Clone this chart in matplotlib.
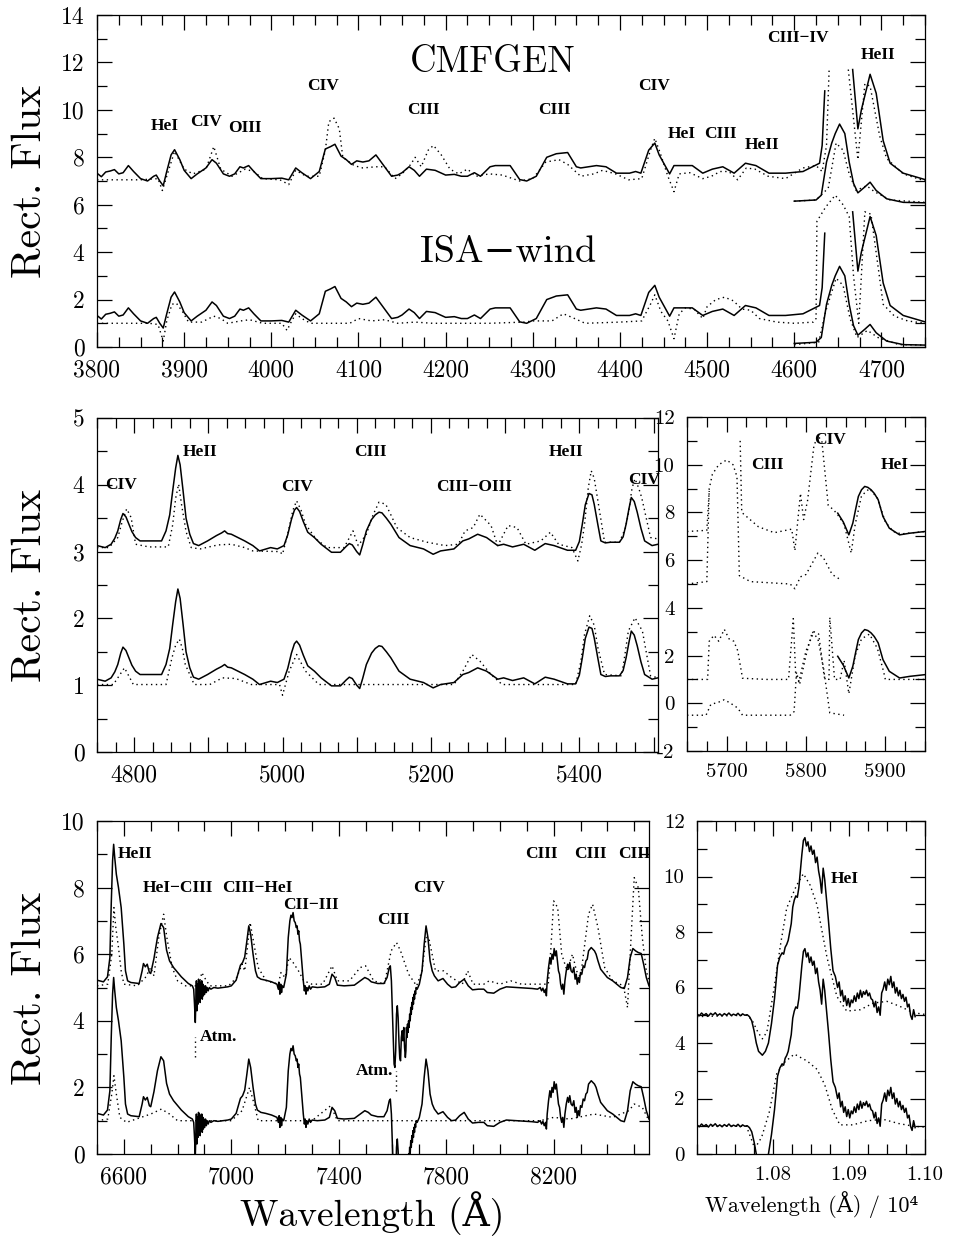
import numpy as np
import matplotlib
matplotlib.use('Agg')
import matplotlib.pyplot as plt
from matplotlib.ticker import MultipleLocator, FuncFormatter

plt.rcParams['font.family'] = ['cmr10', 'DejaVu Serif']
plt.rcParams['axes.unicode_minus'] = False
plt.rcParams['mathtext.fontset'] = 'cm'

# ---------------- panel 1 : 3800-4750 ----------------
p1_obs_wave = [3800, 3805, 3810, 3815, 3820, 3825, 3830, 3836, 3842, 3850, 3858, 3865, 3868, 3872, 3876,
               3880, 3885, 3889, 3895, 3900, 3908, 3915, 3925, 3932, 3937, 3945, 3952, 3958, 3964, 3968,
               3974, 3980, 3988, 4000, 4012, 4020, 4028, 4035, 4045, 4055, 4062, 4068, 4073, 4080, 4086,
               4092, 4098, 4105, 4112, 4120, 4128, 4138, 4145, 4150, 4158, 4164, 4170, 4178, 4188, 4200,
               4210, 4218, 4225, 4233, 4240, 4251, 4257, 4274, 4285, 4293, 4304, 4316, 4327, 4340, 4350,
               4355, 4373, 4384, 4396, 4411, 4418, 4424, 4433, 4440, 4445, 4457, 4462, 4483, 4495, 4506,
               4518, 4531, 4544, 4556, 4571, 4590, 4610, 4629, 4632, 4635, np.nan, 4667, 4673, 4677, 4687,
               4694, 4702, 4710, 4725, 4750]
p1_obs_flux = [1.33, 1.18, 1.38, 1.42, 1.48, 1.30, 1.35, 1.65, 1.40, 1.10, 1.00, 1.20, 1.25, 1.00, 0.80,
               1.40, 2.10, 2.32, 1.90, 1.45, 1.10, 1.30, 1.55, 1.90, 1.75, 1.30, 1.20, 1.30, 1.60, 1.55,
               1.65, 1.40, 1.10, 1.10, 1.12, 1.05, 1.55, 1.35, 1.10, 1.40, 2.35, 2.45, 2.55, 2.05, 1.90,
               1.70, 1.85, 1.80, 1.85, 2.10, 1.70, 1.20, 1.25, 1.35, 1.60, 1.45, 1.20, 1.50, 1.45, 1.25,
               1.28, 1.20, 1.20, 1.35, 1.20, 1.60, 1.65, 1.65, 1.06, 1.00, 1.20, 2.00, 2.15, 2.20, 1.60,
               1.55, 1.65, 1.60, 1.33, 1.33, 1.40, 1.33, 2.30, 2.60, 2.10, 1.30, 1.65, 1.65, 1.33, 1.50,
               1.60, 1.33, 1.75, 1.65, 1.33, 1.33, 1.40, 1.75, 2.50, 4.80, np.nan, 5.70, 3.20, 4.00, 5.50,
               4.70, 2.70, 1.75, 1.33, 1.06]
p1_obs_small_wave = [4600, 4625, 4631, 4637, 4643, 4647, 4652, 4658, 4663, 4668, 4673, 4681, 4687, 4694, 4706, 4725, 4750]
p1_obs_small_flux = [0.15, 0.20, 0.40, 1.80, 2.60, 3.00, 3.40, 3.00, 1.80, 0.90, 0.50, 0.75, 0.95, 0.60, 0.25, 0.10, 0.08]

p1_cmf_wave = [3800, 3850, 3870, 3875, 3880, 3889, 3900, 3910, 3925, 3934, 3942, 3955, 3970, 3980, 3990,
               4010, 4020, 4028, 4040, 4055, 4062, 4066, 4072, 4078, 4082, 4095, 4105, 4120, 4130, 4142,
               4150, 4160, 4165, 4172, 4180, 4186, 4195, 4205, 4215, 4225, 4235, 4250, 4265, 4285, 4300,
               4315, 4330, 4340, 4355, 4370, 4380, 4395, 4410, 4425, 4435, 4440, 4446, 4455, 4462, 4468,
               4480, 4495, 4505, 4515, 4525, 4535, 4545, 4555, 4570, 4590, 4610, 4625, 4632, 4637, 4640,
               np.nan, 4662, 4673, 4681, 4687, 4698, 4706, 4725, 4750]
p1_cmf_flux = [1.05, 1.05, 1.10, 0.60, 1.20, 2.25, 1.50, 1.30, 1.50, 2.45, 1.50, 1.20, 1.50, 1.40, 1.10,
               1.05, 0.85, 1.45, 1.20, 1.20, 2.30, 3.50, 3.65, 3.20, 2.00, 1.65, 1.55, 1.60, 1.60, 1.10,
               1.30, 1.70, 2.00, 1.60, 2.30, 2.50, 2.10, 1.50, 1.30, 1.50, 1.20, 1.30, 1.25, 1.00, 1.10,
               1.80, 1.90, 1.70, 1.20, 1.30, 1.45, 1.30, 1.05, 1.10, 2.30, 2.80, 2.20, 1.20, 0.55, 1.30,
               1.35, 1.10, 1.20, 1.40, 1.40, 1.05, 1.55, 1.50, 1.20, 1.10, 1.55, 1.65, 1.40, 2.50, 5.70,
               np.nan, 5.70, 1.90, 5.10, 5.00, 2.90, 1.95, 1.30, 1.00]
p1_cmf_small_wave = [4600, 4625, 4639, 4648, 4656, 4663, 4671, 4683, 4692, 4710, 4750]
p1_cmf_small_flux = [0.15, 0.20, 0.70, 2.60, 2.30, 1.30, 0.60, 0.80, 0.55, 0.20, 0.10]

p1_isa_wave = [3800, 3860, 3870, 3876, 3880, 3886, 3891, 3898, 3905, 3920, 3934, 3942, 3950, 3965, 3975,
               3990, 4012, 4018, 4022, 4028, 4035, 4045, 4090, 4100, 4115, 4130, 4145, 4165, 4185, 4250,
               4290, 4300, 4322, 4335, 4345, 4360, 4400, 4425, 4435, 4440, 4447, 4455, 4462, 4468, 4475,
               4485, 4495, 4500, 4510, 4520, 4530, 4540, 4550, 4560, 4580, 4600, 4622, 4625, 4626, 4636,
               4647, 4656, 4663, 4668, 4674, 4681, 4688, 4702, 4715, 4730, 4750]
p1_isa_flux = [1.00, 1.00, 0.95, 0.25, 1.10, 1.80, 1.85, 1.50, 1.05, 1.05, 1.30, 1.20, 1.00, 1.10, 1.15,
               1.00, 1.00, 0.70, 1.00, 1.40, 1.20, 1.00, 1.00, 1.20, 1.10, 1.15, 1.00, 1.05, 1.00, 1.00,
               1.05, 1.10, 1.10, 1.40, 1.25, 1.00, 1.05, 1.10, 1.80, 2.20, 1.50, 1.10, 0.35, 1.40, 1.65,
               1.60, 1.20, 1.70, 2.00, 2.10, 1.95, 1.60, 1.55, 1.20, 1.05, 1.00, 1.05, 1.20, 5.30, 5.90,
               6.40, 6.00, 5.50, 3.00, 1.00, 5.70, 5.60, 1.80, 1.30, 1.10, 1.00]
p1_isa_small_wave = [4600, 4628, 4636, 4648, 4656, 4664, 4672, 4684, 4696, 4720, 4750]
p1_isa_small_flux = [0.10, 0.20, 1.50, 2.90, 2.60, 1.20, 0.40, 0.70, 0.40, 0.10, 0.08]

# ---------------- panel 2 : 4750-5506 ----------------
p2_obs_wave = [4750, 4761, 4769, 4774, 4778, 4782, 4785, 4789, 4793, 4797, 4802, 4808, 4837, 4843, 4848,
               4852, 4856, 4859, 4862, 4866, 4870, 4875, 4880, 4887, 4899, 4911, 4918, 4922, 4926, 4931,
               4940, 4949, 4960, 4969, 4984, 4993, 5002, 5007, 5012, 5016, 5019, 5023, 5028, 5034, 5043,
               5052, 5066, 5078, 5086, 5090, 5094, 5100, 5104, 5108, 5113, 5120, 5125, 5130, 5134, 5140,
               5146, 5157, 5172, 5190, 5203, 5213, 5231, 5243, 5251, 5263, 5275, 5290, 5298, 5310, 5325,
               5340, 5354, 5366, 5384, 5395, 5400, 5404, 5408, 5413, 5417, 5420, 5425, 5429, 5435, 5442,
               5454, 5459, 5463, 5467, 5470, 5474, 5478, 5483, 5488, 5498, 5506]
p2_obs_flux = [1.09, 1.06, 1.11, 1.20, 1.31, 1.48, 1.57, 1.52, 1.41, 1.30, 1.21, 1.16, 1.16, 1.31, 1.55,
               1.91, 2.25, 2.44, 2.30, 1.91, 1.50, 1.26, 1.12, 1.09, 1.16, 1.24, 1.28, 1.31, 1.27, 1.26,
               1.21, 1.16, 1.09, 1.01, 1.06, 1.04, 1.09, 1.25, 1.48, 1.62, 1.66, 1.60, 1.45, 1.29, 1.21,
               1.11, 0.99, 0.99, 1.08, 1.12, 1.10, 1.00, 0.95, 1.10, 1.31, 1.48, 1.55, 1.59, 1.58, 1.50,
               1.41, 1.21, 1.09, 1.04, 0.96, 1.01, 1.04, 1.16, 1.19, 1.26, 1.21, 1.09, 1.11, 1.07, 1.11,
               1.02, 1.12, 1.09, 1.02, 1.02, 1.15, 1.41, 1.70, 1.87, 1.85, 1.71, 1.40, 1.16, 1.13, 1.14,
               1.14, 1.22, 1.41, 1.65, 1.81, 1.75, 1.59, 1.35, 1.16, 1.09, 1.11]
p2_cmf_wave = [4750, 4766, 4778, 4784, 4790, 4796, 4802, 4820, 4846, 4852, 4856, 4860, 4864, 4870, 4877,
               4889, 4913, 4931, 4949, 4960, 4996, 5000, 5008, 5014, 5019, 5025, 5031, 5045, 5060, 5083,
               5095, 5102, 5113, 5122, 5130, 5139, 5146, 5154, 5172, 5195, 5219, 5237, 5246, 5257, 5266,
               5281, 5290, 5304, 5316, 5328, 5348, 5361, 5372, 5390, 5398, 5403, 5407, 5412, 5416, 5420,
               5425, 5434, 5454, 5462, 5466, 5471, 5475, 5480, 5484, 5496, 5506]
p2_cmf_flux = [1.06, 1.06, 1.21, 1.45, 1.64, 1.51, 1.11, 1.07, 1.07, 1.40, 1.80, 2.01, 1.70, 1.30, 1.06,
               1.04, 1.10, 1.11, 1.06, 1.01, 1.00, 0.96, 1.31, 1.62, 1.76, 1.62, 1.41, 1.19, 1.06, 1.06,
               1.31, 1.09, 1.26, 1.55, 1.74, 1.71, 1.55, 1.36, 1.21, 1.14, 1.09, 1.11, 1.31, 1.36, 1.56,
               1.39, 1.09, 1.39, 1.36, 1.11, 1.16, 1.29, 1.11, 1.06, 0.86, 1.10, 1.41, 1.95, 2.21, 2.10,
               1.76, 1.14, 1.14, 1.35, 1.56, 1.95, 2.09, 1.95, 1.81, 1.21, 1.19]
p2_isa_wave = [4750, 4772, 4787, 4799, 4843, 4851, 4856, 4861, 4865, 4869, 4881, 4902, 4919, 4937, 4958,
               4996, 5000, 5009, 5019, 5031, 5049, 5231, 5243, 5255, 5266, 5281, 5296, 5395, 5402, 5407,
               5414, 5420, 5425, 5434, 5457, 5462, 5466, 5475, 5485, 5496, 5506]
p2_isa_flux = [1.01, 1.01, 1.26, 1.01, 1.01, 1.41, 1.60, 1.69, 1.55, 1.31, 1.01, 1.01, 1.11, 1.10, 1.01,
               1.01, 0.85, 1.21, 1.46, 1.21, 1.01, 1.01, 1.21, 1.46, 1.36, 1.16, 1.01, 1.01, 1.35, 1.76,
               2.04, 1.90, 1.56, 1.16, 1.14, 1.50, 1.81, 2.01, 1.81, 1.14, 1.11]

# ---------------- panel 2R : 5650-5950 ----------------
p2r_obs_wave = [5840, 5847, 5854, 5859, 5863, 5866, 5870, 5874, 5878, 5882, 5886, 5891, 5897, 5905, 5918, 5931, 5950]
p2r_obs_flux = [1.97, 1.60, 1.06, 1.55, 2.20, 2.67, 2.95, 3.09, 3.05, 2.95, 2.80, 2.53, 1.83, 1.34, 1.06, 1.13, 1.20]
p2r_cmf_wave = [5650, 5675, 5678, 5682, 5690, 5700, 5708, 5713, 5716, 5730, 5780, 5786, 5793, 5800, 5815,
                5822, 5833, 5845]
p2r_cmf_flux = [-1.0, -0.9, 3.0, 3.6, 4.0, 4.2, 4.0, 3.5, -0.65, -0.9, -1.0, -1.2, -0.7, -0.6, 0.3,
                0.1, -0.6, -0.85]
p2r_cmf2_wave = [5650, 5675, 5678, np.nan, 5717, 5719, 5740, 5760, 5782, 5786, 5793, 5797, 5802, 5810, 5815,
                 5820, 5828, 5835, 5840, 5848, 5857, 5862, 5870, 5880, 5890, 5900, 5910, 5920, 5950]
p2r_cmf2_flux = [1.2, 1.25, 2.9, np.nan, 5.0, 2.0, 1.4, 1.15, 1.3, 0.4, 2.8, 1.7, 2.5, 4.8, 5.2,
                 5.0, 2.3, 2.1, 1.9, 1.5, 0.3, 1.5, 2.7, 3.0, 2.6, 1.6, 1.2, 1.1, 1.2]
p2r_isa_wave = [5650, 5676, 5678, 5684, 5690, 5697, 5703, 5709, 5714, 5720, 5750, 5778, 5784, 5787, 5791,
                5800, 5810, 5816, 5823, 5829, 5830, 5836, 5843, 5848, 5854, 5862, 5870, 5880, 5890, 5898,
                5900, 5950]
p2r_isa_flux = [1.0, 1.0, 2.6, 2.85, 2.6, 3.1, 2.7, 2.6, 2.2, 1.05, 1.0, 1.0, 3.55, 1.2, 0.9,
                2.2, 3.0, 2.9, 1.1, 1.0, 3.6, 1.0, 1.0, 1.8, 0.4, 2.0, 2.7, 2.9, 2.3, 1.3,
                1.0, 1.0]
p2r_isa2_wave = [5650, 5674, 5680, 5690, 5697, 5705, 5714, 5720, 5780, 5785, 5788, 5792, 5800, 5808, 5815,
                 5822, 5830, 5848]
p2r_isa2_flux = [-0.5, -0.5, -0.05, 0.05, 0.15, 0.0, -0.2, -0.5, -0.5, -0.35, 1.3, 0.8, 2.0, 3.0, 2.7,
                 1.5, -0.4, -0.5]

# ---------------- panel 3 : 6500-8555 ----------------
p3_obs_wave = [6500, 6524, 6539, 6548, 6553, 6558, 6562, 6566, 6572, 6580, 6590, 6600, 6606, 6614, 6626,
               6657, 6668, 6673, 6680, 6687, 6695, 6700, 6712, 6725, 6738, 6748, 6759, 6770, 6785, 6814,
               6840, 6855, 6860, 6863, 6866, 6868, 6870, 6872, 6874, 6876, 6878, 6880, 6882, 6884, 6886,
               6888, 6890, 6892, 6894, 6896, 6898, 6901, 6904, 6907, 6910, 6914, 6918, 6924, 6935, 6950,
               6970, 6987, 7000, 7018, 7034, 7042, 7050, 7058, 7065, 7072, 7081, 7090, 7097, 7110, 7128,
               7150, 7170, 7175, 7178, 7181, 7184, 7187, 7190, 7195, 7205, 7212, 7218, 7222, 7226, 7230,
               7234, 7238, 7242, 7245, 7248, 7251, 7254, 7257, 7262, 7268, 7272, 7275, 7278, 7281, 7285,
               7290, 7295, 7301, 7320, 7348, 7365, 7375, 7385, 7395, 7420, 7458, 7480, 7497, 7510, 7521,
               7545, 7568, 7580, 7588, 7592, 7596, 7600, 7603, 7606, 7609, 7612, 7615, 7618, 7621, 7624,
               7627, 7630, 7633, 7636, 7639, 7642, 7645, 7648, 7650, 7652, 7654, 7656, 7658, 7660, 7662,
               7664, 7666, 7668, 7670, 7672, 7674, 7676, 7678, 7680, 7682, 7684, 7686, 7688, 7692, 7700,
               7710, 7718, 7725, 7732, 7740, 7748, 7756, 7770, 7788, 7805, 7820, 7835, 7850, 7867, 7882,
               7898, 7920, 7940, 7953, 7977, 8000, 8024, 8060, 8100, 8120, 8140, 8150, 8155, 8160, 8165,
               8170, 8173, 8176, 8181, 8186, 8190, 8194, 8198, 8202, 8206, 8210, 8214, 8218, 8222, 8226,
               8230, 8234, 8238, 8242, 8247, 8252, 8256, 8260, 8265, 8270, 8275, 8280, 8284, 8288, 8292,
               8296, 8300, 8305, 8310, 8315, 8320, 8325, 8330, 8335, 8340, 8346, 8352, 8358, 8365, 8375,
               8385, 8400, 8420, 8432, 8450, 8463, 8475, 8485, 8495, 8505, 8515, 8526, 8535, 8545, 8555]
p3_obs_flux = [1.22, 1.17, 1.32, 1.90, 3.50, 4.80, 5.30, 4.90, 4.40, 4.00, 3.40, 2.30, 1.50, 1.20, 1.15,
               1.12, 1.50, 1.72, 1.62, 1.70, 1.45, 1.42, 1.87, 2.50, 2.92, 2.80, 2.12, 1.80, 1.60, 1.32,
               1.12, 1.05, 0.95, 0.50, -0.05, 0.60, 1.20, 0.30, 1.10, 0.50, 1.25, 0.60, 1.20, 0.55, 1.15,
               0.70, 1.20, 0.65, 1.10, 0.75, 1.05, 0.80, 1.05, 0.85, 1.00, 0.90, 1.00, 0.95, 1.00, 0.98,
               1.00, 1.02, 1.05, 1.22, 1.67, 1.75, 1.92, 2.40, 2.85, 2.60, 2.00, 1.50, 1.32, 1.25, 1.22,
               1.17, 1.10, 0.95, 1.15, 0.80, 1.10, 0.85, 1.05, 1.00, 1.40, 2.50, 3.00, 3.17, 3.10, 3.25,
               3.00, 2.95, 2.80, 2.85, 2.60, 2.70, 2.40, 2.30, 1.80, 1.20, 0.90, 1.05, 0.80, 1.00, 0.90,
               1.05, 0.95, 1.02, 1.00, 1.02, 1.10, 1.40, 1.30, 1.07, 1.05, 1.07, 1.20, 1.30, 1.25, 1.17,
               1.12, 1.12, 1.30, 1.60, 1.65, 1.20, 0.20, -0.50, -1.30, -1.40, -0.90, 0.20, 0.45, 0.10, -0.60,
               -1.10, -1.20, -0.50, -0.30, -0.60, -0.20, -0.80, -1.10, -0.90, -0.20, -0.50, -0.10, -0.35, 0.00, -0.20,
               0.20, 0.00, 0.40, 0.20, 0.55, 0.35, 0.70, 0.50, 0.80, 0.65, 0.90, 0.80, 1.00, 0.95, 1.10,
               1.50, 2.30, 2.85, 2.50, 1.80, 1.50, 1.35, 1.20, 1.27, 1.10, 1.00, 1.02, 1.15, 1.25, 1.05,
               0.93, 0.95, 0.95, 0.85, 0.83, 0.95, 1.02, 1.00, 0.98, 0.97, 0.95, 1.00, 0.90, 0.98, 0.85,
               0.95, 0.75, 1.20, 1.60, 1.90, 1.70, 2.00, 1.85, 2.17, 1.95, 2.10, 1.80, 1.50, 1.40, 1.10,
               0.95, 1.10, 0.80, 1.20, 1.50, 1.70, 1.55, 1.75, 1.50, 1.45, 1.60, 1.25, 1.40, 1.10, 1.30,
               1.15, 1.45, 1.40, 1.65, 1.60, 1.80, 1.85, 2.10, 2.15, 2.20, 2.15, 2.10, 2.00, 1.80, 1.55,
               1.45, 1.30, 1.20, 1.12, 1.00, 0.97, 1.30, 1.90, 2.17, 2.10, 2.05, 2.02, 1.70, 1.30, 1.05]
p3_cmf_wave = [6500, 6540, 6555, 6563, 6570, 6580, 6590, 6600, 6650, 6680, 6700, 6712, 6730, 6748, 6760,
               6780, 6800, 6830, 6880, 6890, 6900, 6920, 6990, 7020, 7040, 7050, 7060, 7070, 7080, 7100,
               7130, 7175, 7185, 7200, 7215, 7230, 7250, 7270, 7300, 7340, 7375, 7395, 7440, 7480, 7500,
               7530, 7570, 7595, 7615, 7630, 7660, 7690, 7710, 7725, 7735, 7760, 7790, 7820, 7860, 7880,
               7900, 7940, 7960, 8000, 8040, 8080, 8180, 8190, 8200, 8215, 8230, 8250, 8270, 8285, 8300,
               8330, 8345, 8365, 8390, 8420, 8460, 8475, 8485, 8500, 8515, 8530, 8545, 8555]
p3_cmf_flux = [1.05, 1.10, 2.00, 3.40, 2.80, 2.20, 1.50, 1.10, 1.05, 1.30, 1.60, 1.35, 2.50, 3.20, 2.50,
               1.60, 1.20, 1.05, 1.05, 1.45, 1.30, 1.05, 1.05, 1.30, 1.70, 1.50, 2.20, 2.95, 2.50, 1.60,
               1.20, 1.10, 1.45, 1.30, 1.90, 1.75, 1.50, 1.20, 1.10, 1.10, 1.65, 1.20, 1.20, 1.60, 1.65,
               1.20, 1.10, 2.10, 2.35, 2.10, 1.40, 1.05, 1.50, 2.50, 2.50, 1.50, 1.50, 1.30, 1.10, 1.50,
               1.10, 1.10, 1.20, 1.10, 1.20, 1.10, 1.10, 2.20, 3.60, 3.40, 2.00, 1.50, 2.00, 1.50, 1.30,
               3.20, 3.50, 2.80, 1.60, 1.20, 1.05, 0.40, 2.00, 4.30, 4.00, 2.50, 1.50, 1.20]
p3_isa_wave = [6500, 6540, 6555, 6563, 6572, 6585, 6610, 6700, 6740, 6770, 6800, 6880, 6890, 6900, 7000,
               7040, 7068, 7085, 7100, 7300, 7370, 7395, 7600, 7700, 8150, 8200, 8260, 8350, 8420, 8480,
               8500, 8530, 8555]
p3_isa_flux = [1.00, 1.05, 1.80, 2.35, 1.80, 1.10, 0.95, 1.20, 1.35, 1.20, 1.00, 1.00, 1.20, 1.00, 1.00,
               1.30, 2.00, 1.50, 1.00, 1.00, 1.45, 1.00, 1.00, 1.00, 1.00, 1.10, 1.05, 1.20, 1.10, 1.30,
               1.50, 1.40, 1.00]

# ---------------- panel 3R : 1.07-1.10 x 1e4 A ----------------
p3r_obs_wave = [1.0700, 1.0703, 1.0706, 1.0709, 1.0712, 1.0715, 1.0718, 1.0721, 1.0724, 1.0727, 1.0730,
                1.0733, 1.0736, 1.0739, 1.0742, 1.0745, 1.0748, 1.0751, 1.0754, 1.0757, 1.0760, 1.0763,
                1.0766, 1.0769, 1.0772, 1.0775, 1.0778, 1.0781, 1.0786, 1.0790, 1.0794, 1.0798, 1.0802,
                1.0806, 1.0809, 1.0812, 1.0814, 1.0816, 1.0818, 1.0820, 1.0822, 1.0824, 1.0826, 1.0828,
                1.0830, 1.0832, 1.0834, 1.0836, 1.0838, 1.0840, 1.0842, 1.0844, 1.0846, 1.0848, 1.0850,
                1.0852, 1.0854, 1.0856, 1.0858, 1.0860, 1.0862, 1.0864, 1.0866, 1.0868, 1.0870, 1.0873,
                1.0876, 1.0879, 1.0882, 1.0885, 1.0887, 1.0889, 1.0891, 1.0893, 1.0895, 1.0897, 1.0899,
                1.0901, 1.0903, 1.0905, 1.0907, 1.0909, 1.0911, 1.0913, 1.0915, 1.0917, 1.0919, 1.0921,
                1.0923, 1.0925, 1.0927, 1.0929, 1.0931, 1.0933, 1.0935, 1.0937, 1.0939, 1.0941, 1.0943,
                1.0945, 1.0947, 1.0949, 1.0951, 1.0953, 1.0955, 1.0957, 1.0959, 1.0961, 1.0963, 1.0965,
                1.0967, 1.0969, 1.0971, 1.0973, 1.0975, 1.0977, 1.0979, 1.0981, 1.0983, 1.0985, 1.0987]
p3r_obs_flux = [1.05, 0.98, 1.08, 1.00, 1.06, 0.97, 1.07, 1.01, 1.09, 0.99, 1.05,
                0.98, 1.06, 1.00, 1.08, 0.99, 1.04, 1.00, 1.07, 0.98, 1.05, 1.00,
                1.02, 0.95, 0.80, 0.45, 0.00, -0.30, -0.44, -0.30, 0.00, 0.70, 1.60,
                2.80, 3.10, 3.25, 3.20, 3.45, 3.55, 3.70, 4.00, 4.30, 4.90, 5.15,
                5.30, 5.25, 5.60, 6.20, 6.80, 7.30, 7.40, 7.10, 7.25, 6.90, 7.10,
                6.80, 6.95, 6.50, 6.70, 6.20, 5.90, 5.40, 6.30, 5.90, 5.30, 4.40,
                3.40, 2.60, 2.40, 2.00, 2.20, 1.70, 1.90, 1.50, 1.70, 1.35, 1.60,
                1.30, 1.55, 1.45, 1.70, 1.50, 1.80, 1.60, 1.90, 1.65, 1.85, 1.75,
                1.90, 1.70, 1.80, 1.60, 1.55, 1.30, 1.50, 1.10, 1.30, 1.00, 1.80,
                1.95, 2.20, 1.90, 2.30, 2.10, 2.40, 2.00, 2.20, 1.80, 2.00, 1.70,
                1.90, 1.60, 1.75, 1.50, 1.65, 1.30, 1.40, 1.00, 0.85, 1.20, 0.95]
p3r_cmf_wave = [1.0700, 1.0765, 1.0772, 1.0780, 1.0786, 1.0792, 1.0801, 1.0810, 1.0818, 1.0831, 1.0840,
                1.0849, 1.0858, 1.0871, 1.0884, 1.0897, 1.0915, 1.0932, 1.0950, 1.0967, 1.0985, 1.1000]
p3r_cmf_flux = [0.95, 1.00, 0.85, 0.40, 0.15, 0.40, 1.90, 3.56, 4.86, 5.68, 6.10,
                5.68, 4.97, 3.09, 1.68, 1.15, 1.20, 1.44, 1.50, 1.32, 1.09, 1.03]
p3r_isa_wave = [1.0700, 1.0765, 1.0772, 1.0776, 1.0785, 1.0795, 1.0805, 1.0815, 1.0828, 1.0845, 1.0858,
                1.0868, 1.0878, 1.0888, 1.0905, 1.0925, 1.0945, 1.0965, 1.0985, 1.1000]
p3r_isa_flux = [1.00, 1.00, 0.50, 0.20, 0.60, 1.50, 2.90, 3.30, 3.60, 3.35, 3.05,
                2.50, 1.60, 1.05, 1.05, 1.20, 1.25, 1.10, 1.00, 0.97]

# vertical offsets of the CMFGEN comparison in each panel
off1, off2, off2r, off3, off3r = 6, 2, 6, 4, 4

W, H = 954, 1236
fig = plt.figure(figsize=(W / 100, H / 100), dpi=100)


def box(x0, y0, x1, y1):
    return fig.add_axes([x0 / W, 1 - y1 / H, (x1 - x0) / W, (y1 - y0) / H])


def frame(ax, xlim, ylim, xminor, ymajor, yminor, size=17):
    ax.set_xlim(*xlim)
    ax.set_ylim(*ylim)
    ax.xaxis.set_minor_locator(MultipleLocator(xminor))
    ax.yaxis.set_major_locator(MultipleLocator(ymajor))
    ax.yaxis.set_minor_locator(MultipleLocator(yminor))
    ax.tick_params(which='both', direction='in', top=True, right=True, width=0.9,
                   labelsize=size, pad=9)
    ax.tick_params(which='major', length=11)
    ax.tick_params(which='minor', length=7)
    for s in ax.spines.values():
        s.set_linewidth(0.9)


sol = dict(color='black', lw=1.1)
dot = dict(color='black', lw=1.0, linestyle=(0, (1, 2.5)))
lab = dict(family=['Liberation Serif', 'DejaVu Serif'], fontsize=12.5, weight='bold',
           ha='center', va='center')

# ---- panel 1
ax1 = box(97, 15, 925, 347)
ax1.plot(p1_obs_wave, np.array(p1_obs_flux) + off1, **sol)
ax1.plot(p1_obs_wave, p1_obs_flux, **sol)
ax1.plot(p1_obs_small_wave, np.array(p1_obs_small_flux) + off1, **sol)
ax1.plot(p1_obs_small_wave, p1_obs_small_flux, **sol)
ax1.plot(p1_cmf_wave, np.array(p1_cmf_flux) + off1, **dot)
ax1.plot(p1_cmf_small_wave, np.array(p1_cmf_small_flux) + off1, **dot)
ax1.plot(p1_isa_wave, p1_isa_flux, **dot)
ax1.plot(p1_isa_small_wave, p1_isa_small_flux, **dot)
frame(ax1, (3800, 4750), (0, 14), 25, 2, 1)
ax1.xaxis.set_major_locator(MultipleLocator(100))
for t, x, y in [('HeI', 3878, 9.3), ('CIV', 3925, 9.5), ('OIII', 3970, 9.25), ('CIV', 4059, 11.0),
                ('CIII', 4174, 10.0), ('CIII', 4325, 10.0), ('CIV', 4439, 11.0), ('HeI', 4471, 9.0),
                ('CIII', 4515, 9.0), ('HeII', 4563, 8.5), ('CIII\u2212IV', 4604, 13.05), ('HeII', 4696, 12.3)]:
    ax1.text(x, y, t, **lab)
ax1.text(4254, 12.0, 'CMFGEN', fontsize=26.5, ha='center', va='center')
ax1.text(4272, 4.0, 'ISA\u2212wind', fontsize=27.5, ha='center', va='center')

# ---- panel 2
ax2 = box(97, 418, 658, 752)
ax2.plot(p2_obs_wave, np.array(p2_obs_flux) + off2, **sol)
ax2.plot(p2_obs_wave, p2_obs_flux, **sol)
ax2.plot(p2_cmf_wave, np.array(p2_cmf_flux) + off2, **dot)
ax2.plot(p2_isa_wave, p2_isa_flux, **dot)
frame(ax2, (4750, 5506), (0, 5), 25, 1, 0.5)
ax2.xaxis.set_major_locator(MultipleLocator(100))
ax2.xaxis.set_major_formatter(FuncFormatter(lambda v, p: '%d' % v if int(round(v)) % 200 == 0 else ''))
for t, x, y in [('CIV', 4782, 4.0), ('HeII', 4889, 4.49), ('CIV', 5020, 3.97), ('CIII', 5118, 4.49),
                ('CIII\u2212OIII', 5258, 3.97), ('HeII', 5382, 4.49), ('CIV', 5487, 4.07)]:
    ax2.text(x, y, t, **lab)

# ---- panel 2R
ax2r = box(687, 417, 925, 751)
ax2r.plot(p2r_obs_wave, np.array(p2r_obs_flux) + off2r, **sol)
ax2r.plot(p2r_obs_wave, p2r_obs_flux, **sol)
ax2r.plot(p2r_cmf_wave, np.array(p2r_cmf_flux) + off2r, **dot)
ax2r.plot(p2r_cmf2_wave, np.array(p2r_cmf2_flux) + off2r, **dot)
ax2r.plot(p2r_isa_wave, p2r_isa_flux, **dot)
ax2r.plot(p2r_isa2_wave, p2r_isa2_flux, **dot)
frame(ax2r, (5650, 5950), (-2, 12), 25, 2, 1, size=15)
ax2r.xaxis.set_major_locator(MultipleLocator(100))
for t, x, y in [('CIII', 5751, 10.0), ('CIV', 5830, 11.05), ('HeI', 5912, 10.0)]:
    ax2r.text(x, y, t, **lab)

# ---- panel 3
ax3 = box(97, 821, 649, 1154)
ax3.plot(p3_obs_wave, np.array(p3_obs_flux) + off3, **sol)
ax3.plot(p3_obs_wave, p3_obs_flux, **sol)
ax3.plot(p3_cmf_wave, np.array(p3_cmf_flux) + off3, **dot)
ax3.plot(p3_isa_wave, p3_isa_flux, **dot)
ax3.plot([6866, 6866], [2.9, 3.5], **dot)
ax3.plot([7612, 7612], [1.9, 2.5], **dot)
frame(ax3, (6500, 8555), (0, 10), 100, 2, 1)
ax3.set_xticks([6600, 7000, 7400, 7800, 8200])
for t, x, y in [('HeI\u2212CIII', 6800, 8.0), ('CIII\u2212HeI', 7095, 8.0), ('CII\u2212III', 7296, 7.48),
                ('CIII', 7605, 7.03), ('CIV', 7735, 8.0), ('Atm.', 6954, 3.5), ('Atm.', 7534, 2.5),
                ('CIII', 8156, 9.0), ('CIII', 8338, 9.0), ('CIII', 8502, 9.0)]:
    ax3.text(x, y, t, **lab)
ax3.text(6578, 9.0, 'HeII', **{**lab, 'ha': 'left'})

# ---- panel 3R
ax3r = box(697, 821, 925, 1154)
ax3r.plot(p3r_obs_wave, np.array(p3r_obs_flux) + off3r, **sol)
ax3r.plot(p3r_obs_wave, p3r_obs_flux, **sol)
ax3r.plot(p3r_cmf_wave, np.array(p3r_cmf_flux) + off3r, **dot)
ax3r.plot(p3r_isa_wave, p3r_isa_flux, **dot)
frame(ax3r, (1.07, 1.10), (0, 12), 0.0025, 2, 1, size=15)
ax3r.set_xticks([1.08, 1.09, 1.10])
ax3r.set_xticklabels(['1.08', '1.09', '1.10'])
ax3r.text(1.0895, 9.9, 'HeI', **lab)

# axis titles
for yc in (181, 585, 988):
    fig.text(30 / W, 1 - yc / H, 'Rect. Flux', rotation=90, fontsize=30, ha='center', va='center')
fig.text(372 / W, 1 - 1226 / H, 'Wavelength (\u00c5)', fontsize=27, ha='center', va='baseline')
fig.text(812 / W, 1 - 1205 / H, 'Wavelength (\u00c5) / 10\u2074', fontsize=16, ha='center', va='center')

fig.savefig('out.png', dpi=100)
